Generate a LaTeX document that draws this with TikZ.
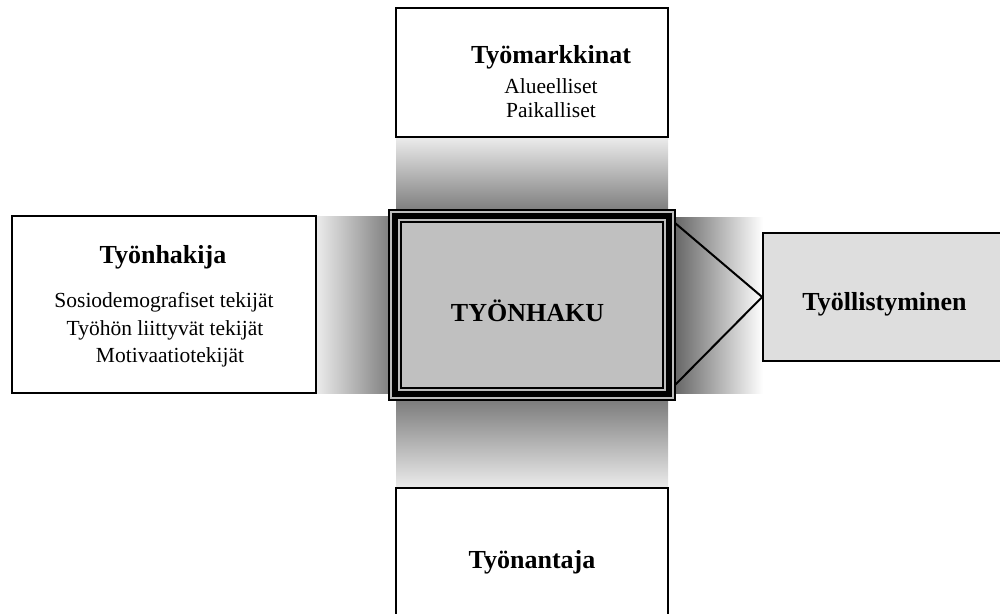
\documentclass[tikz,border=0pt]{standalone}
\usepackage{fontspec}
\setmainfont{Liberation Serif}
\definecolor{gl}{HTML}{ECECEC}
\definecolor{gd}{HTML}{767676}
\definecolor{gdr}{HTML}{5E5E5E}
\definecolor{cfill}{HTML}{C0C0C0}
\definecolor{cbord}{HTML}{BDBDBD}
\definecolor{rfill}{HTML}{DEDEDE}
\begin{document}
\begin{tikzpicture}[x=1pt,y=-1pt,
  box/.style={draw=black,line width=1.7pt,fill=white,rectangle,inner sep=0pt},
  ttl/.style={font=\fontsize{26}{30}\selectfont\bfseries,anchor=base,inner sep=0pt},
  sub/.style={font=\fontsize{21.5}{25}\selectfont,anchor=base,inner sep=0pt}]
\useasboundingbox (0,0) rectangle (1000,613);
% gradient bands
\shade[top color=gl,bottom color=gd] (396,137) rectangle (668,216);
\shade[top color=gd,bottom color=gl] (396,395) rectangle (668,488);
\shade[left color=gl,right color=gd] (316,216) rectangle (396,393);
\shade[left color=gdr,right color=white] (670,217) rectangle (763,393);
% center box with multi-line frame
\node[rectangle,fill=black,minimum width=288pt,minimum height=192pt,inner sep=0pt] (cbox) at (532,305) {};
\fill[cbord] ([xshift=2pt,yshift=-2pt]cbox.north west) rectangle ([xshift=-2pt,yshift=2pt]cbox.south east);
\fill[black] ([xshift=4.5pt,yshift=-4.5pt]cbox.north west) rectangle ([xshift=-4.5pt,yshift=4.5pt]cbox.south east);
\fill[cbord] ([xshift=10pt,yshift=-10pt]cbox.north west) rectangle ([xshift=-10pt,yshift=10pt]cbox.south east);
\fill[black] ([xshift=12pt,yshift=-12pt]cbox.north west) rectangle ([xshift=-12pt,yshift=12pt]cbox.south east);
\fill[cfill] ([xshift=14pt,yshift=-14pt]cbox.north west) rectangle ([xshift=-14pt,yshift=14pt]cbox.south east);
\node[ttl] (tcen) at (527.5,321) {TYÖNHAKU};
% boxes
\node[box,minimum width=272pt,minimum height=129pt] (top) at (532,72.5) {};
\node[box,minimum width=304pt,minimum height=177pt] (left) at (164,304.5) {};
\node[box,minimum width=272pt,minimum height=128pt] (bot) at (532,552) {};
\node[box,fill=rfill,minimum width=240pt,minimum height=128pt] (right) at (883,297) {};
% triangle connector
\coordinate (ta) at (675,223);
\coordinate (tb) at (675,385);
\draw[line width=2pt,line join=miter] (ta) -- (right.west) -- (tb);
% texts
\node[ttl] (t1) at (551,63) {Työmarkkinat};
\node[sub] (t1a) at (551,93) {Alueelliset};
\node[sub] (t1b) at (551,117) {Paikalliset};
\node[ttl] (t2) at (163,263) {Työnhakija};
\node[sub] (t2a) at (164,307) {Sosiodemografiset tekijät};
\node[sub] (t2b) at (165,335) {Työhön liittyvät tekijät};
\node[sub] (t2c) at (170,362) {Motivaatiotekijät};
\node[ttl] (t3) at (884.5,310) {Työllistyminen};
\node[ttl] (t4) at (532,568) {Työnantaja};
\end{tikzpicture}
\end{document}
